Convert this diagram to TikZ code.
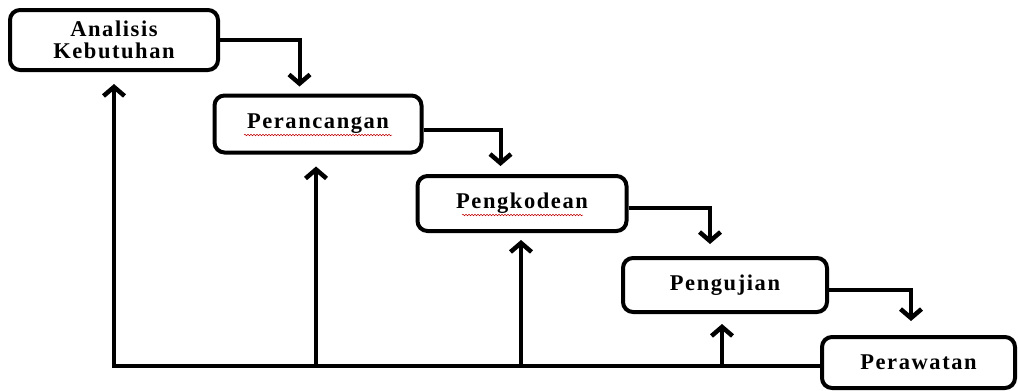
\documentclass[tikz,border=0pt]{standalone}
\usepackage{fontspec}
\setmainfont{Liberation Serif}
\newfontfamily\labfont[LetterSpace=7]{Liberation Serif}
\usetikzlibrary{arrows.meta,decorations.pathmorphing,calc}
\begin{document}
\begin{tikzpicture}[x=1pt,y=-1pt,
  phase/.style={draw,line width=4pt,rounded corners=10pt,fill=white,
    font=\labfont\bfseries\fontsize{22.5}{22}\selectfont,align=center,inner sep=0pt},
  arr/.style={line width=4pt,-{Straight Barb[length=9pt,width=21pt,line width=4.5pt]}},
  wavy/.style={draw=red!75!black,line width=0.5pt,decorate,decoration={snake,amplitude=0.8pt,segment length=3pt}}]
\useasboundingbox (0,0) rectangle (1018,391);
\node[phase,minimum width=208,minimum height=60] (b1) at (114,40) {\raisebox{-2pt}{Analisis}\\\raisebox{-2pt}{Kebutuhan}};
\node[phase,minimum width=207,minimum height=57] (b2) at (318,124) {Perancangan};
\node[phase,minimum width=209,minimum height=55] (b3) at (522,203.5) {Pengkodean};
\node[phase,minimum width=204,minimum height=54] (b4) at (725,285) {Pengujian};
\node[phase,minimum width=193,minimum height=51] (b5) at (918.5,362.5) {Perawatan};
\coordinate (base) at (0,366);
% forward flow
\draw[arr,shorten >=7pt] (b1.east) -| ([xshift=87]b2.north west);
\draw[arr,shorten >=8pt] ([yshift=-6]b2.east) -| ([xshift=85]b3.north west);
\draw[arr,shorten >=12pt] ([yshift=-4.5]b3.east) -| ([xshift=89]b4.north west);
\draw[arr,shorten >=14pt] ([yshift=-5]b4.east) -| ([xshift=91]b5.north west);
% feedback
\draw[arr,shorten >=12pt] ([yshift=-3.5]b5.west) -| (b1.south);
\draw[arr,shorten >=12pt] ([xshift=-2]b2.south |- base) -- ([xshift=-2]b2.south);
\draw[arr,shorten >=7pt] ([xshift=-1]b3.south |- base) -- ([xshift=-1]b3.south);
\draw[arr,shorten >=10pt] ([xshift=-3]b4.south |- base) -- ([xshift=-3]b4.south);
% spell-check underlines
\draw[wavy] (244,135) -- (392,135);
\draw[wavy] (462,215) -- (583,215);
\end{tikzpicture}
\end{document}
